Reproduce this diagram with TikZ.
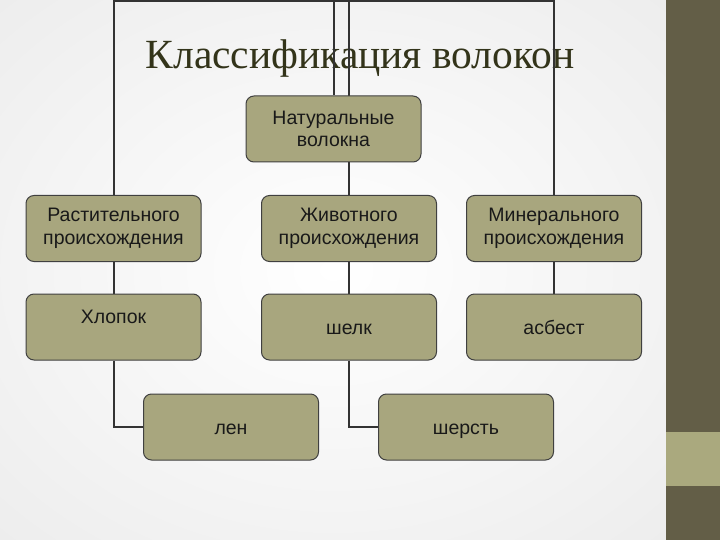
\documentclass[tikz,border=0pt]{standalone}
\usepackage{fontspec}
\setmainfont{Liberation Serif}
\newfontfamily\boxFont{Liberation Sans}
\newcommand{\boxWidth}[0]{175pt}
\newcommand{\boxHeight}[0]{66pt}
\newcommand{\linkWidth}[0]{2pt}
\definecolor{boxfill}{HTML}{A8A67E}
\definecolor{boxline}{HTML}{404040}
\definecolor{titlecolor}{HTML}{33341A}
\definecolor{stripedark}{HTML}{635E47}
\definecolor{stripelight}{HTML}{AAA97E}
\definecolor{bggray}{HTML}{EBEBEB}
\pgfdeclarelayer{back}
\pgfdeclarelayer{links}
\pgfsetlayers{back,links,main}

\begin{document}
\begin{tikzpicture}[x=1pt, y=-1pt]
  \tikzset{fibre/.style={draw=boxline, line width=1pt, fill=boxfill, rounded corners=8pt,
      minimum width=\boxWidth, minimum height=\boxHeight, inner sep=0pt, align=center,
      text=black!90, font=\boxFont\fontsize{19.5}{22.5}\selectfont}}
  \tikzset{oneline/.style={fibre, text height=15pt, text depth=0pt}}
  \tikzset{link/.style={draw=black!80, line width=\linkWidth}}
  \useasboundingbox (0,0) rectangle (720,540);
  \begin{pgfonlayer}{back}
    \shade[inner color=white, outer color=bggray] (-200,-150) rectangle (866,690);
    \node[font=\fontsize{41.5}{46}\selectfont, text=titlecolor, anchor=base] (T-0) at (360,69) {Классификация волокон};
  \end{pgfonlayer}
  \fill[stripedark] (666,0) rectangle (720,540);
  \fill[stripelight] (666,432) rectangle (720,486);
  \node[fibre] (N-0) at (333.5,129) {Натуральные\\волокна};
  \node[fibre] (N-1-1) at (113.5,228.5) {Растительного\\происхождения};
  \node[fibre] (N-1-2) at (349,228.5) {Животного\\происхождения};
  \node[fibre] (N-1-3) at (554,228.5) {Минерального\\происхождения};
  \node[oneline, text depth=23pt] (N-2-1) at (113.5,327) {Хлопок};
  \node[oneline] (N-2-2) at (349,327) {шелк};
  \node[oneline] (N-2-3) at (554,327) {асбест};
  \node[oneline] (N-3-1) at (231,427) {лен};
  \node[oneline] (N-3-2) at (466,427) {шерсть};
  \begin{pgfonlayer}{links}
    \coordinate (top) at (333.5,1.5);
    \draw[link] (N-0.north) -- (top) -| (N-1-1.north);
    \draw[link] (top) -| (N-1-3.north);
    \draw[link] (N-1-2.north) -- (N-1-2.north |- top);
    \draw[link] (N-1-1) -- (N-2-1);
    \draw[link] (N-1-2) -- (N-2-2);
    \draw[link] (N-1-3) -- (N-2-3);
    \draw[link] (N-2-1.south) |- (N-3-1.west);
    \draw[link] (N-2-2.south) |- (N-3-2.west);
  \end{pgfonlayer}
\end{tikzpicture}
\end{document}
